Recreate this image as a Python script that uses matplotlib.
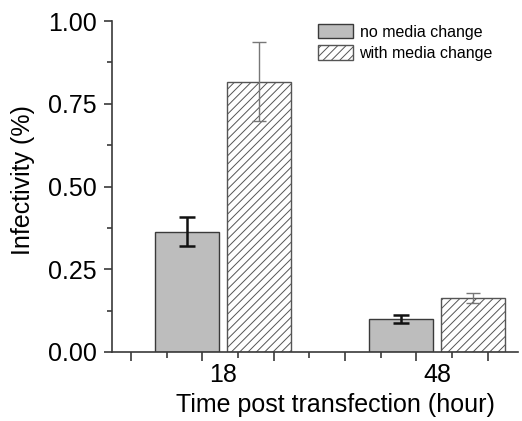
import matplotlib as mpl
mpl.use('Agg')
import matplotlib.pyplot as plt
from matplotlib.patches import Patch

mpl.rcParams['font.family'] = ['Liberation Sans', 'DejaVu Sans']
mpl.rcParams['axes.spines.right'] = False
mpl.rcParams['axes.spines.top'] = False
mpl.rcParams['hatch.linewidth'] = 0.7

# Infectivity at each time point, with and without a media change
time_labels = ['18', '48']
series_names = ['no media change', 'with media change']
no_change = [0.363, 0.100]
no_change_err = [0.044, 0.011]
with_change = [0.817, 0.164]
with_change_err = [0.120, 0.015]

edge = '#3a3a3a'
gray_fill = '#bdbdbd'

fig = plt.figure(figsize=(5.22, 4.21), dpi=100)
ax = fig.add_axes([0.2146, 0.1639, 0.7777, 0.7862])

centers = [1, 2]
offset = 0.167
width = 0.30

ax.bar([c - offset for c in centers], no_change, width, color=gray_fill,
       edgecolor=edge, linewidth=1.0, zorder=2)
ax.bar([c + offset for c in centers], with_change, width, color='white',
       edgecolor='#555555', hatch='////', linewidth=1.0, zorder=2)
ax.errorbar([c - offset for c in centers], no_change, yerr=no_change_err,
            fmt='none', ecolor='#111111', elinewidth=1.8, capsize=5.5,
            capthick=1.8, zorder=3)
ax.errorbar([c + offset for c in centers], with_change, yerr=with_change_err,
            fmt='none', ecolor='#777777', elinewidth=1.0, capsize=5,
            capthick=1.0, zorder=3)

# axis styling
for s in ['left', 'bottom']:
    ax.spines[s].set_color(edge)
    ax.spines[s].set_linewidth(1.2)

ax.set_ylim(0, 1.0)
ax.set_yticks([0, 0.25, 0.5, 0.75, 1.0])
ax.set_yticklabels(['0.00', '0.25', '0.50', '0.75', '1.00'])
ax.set_yticks([0.125, 0.375, 0.625, 0.875], minor=True)
ax.tick_params(axis='y', which='major', length=6, width=1.2, color=edge,
               labelsize=18, pad=5)
ax.tick_params(axis='y', which='minor', length=3.5, width=1.2, color=edge)

ax.set_xlim(0.481, 2.378)
tick_start = 0.570
step = 1 / 6
long_ticks = [tick_start + 2 * k * step for k in range(6)]
short_ticks = [tick_start + (2 * k + 1) * step for k in range(5)]
ax.set_xticks(long_ticks)
ax.set_xticklabels([])
ax.set_xticks(short_ticks, minor=True)
ax.tick_params(axis='x', which='major', length=6.5, width=1.2, color=edge)
ax.tick_params(axis='x', which='minor', length=4, width=1.2, color=edge)

for c, lab in zip(centers, time_labels):
    ax.text(c, -0.069, lab, transform=ax.get_xaxis_transform(),
            ha='center', va='center', fontsize=18)

ax.set_xlabel('Time post transfection (hour)', fontsize=18)
ax.xaxis.set_label_coords(0.55, -0.125)
ax.set_ylabel('Infectivity (%)', fontsize=18)
ax.yaxis.set_label_coords(-0.19, 0.52)

handles = [Patch(facecolor=gray_fill, edgecolor=edge, linewidth=1.0),
           Patch(facecolor='white', edgecolor='#555555', hatch='////',
                 linewidth=1.0)]
ax.legend(handles, series_names, loc='upper left',
          bbox_to_anchor=(318 / 522, 1 - 24 / 421),
          bbox_transform=fig.transFigure, frameon=False, fontsize=11.5,
          handlelength=2.2, handleheight=1.0, handletextpad=0.4,
          labelspacing=0.35, borderpad=0, borderaxespad=0)

fig.savefig('out.png', dpi=100)
